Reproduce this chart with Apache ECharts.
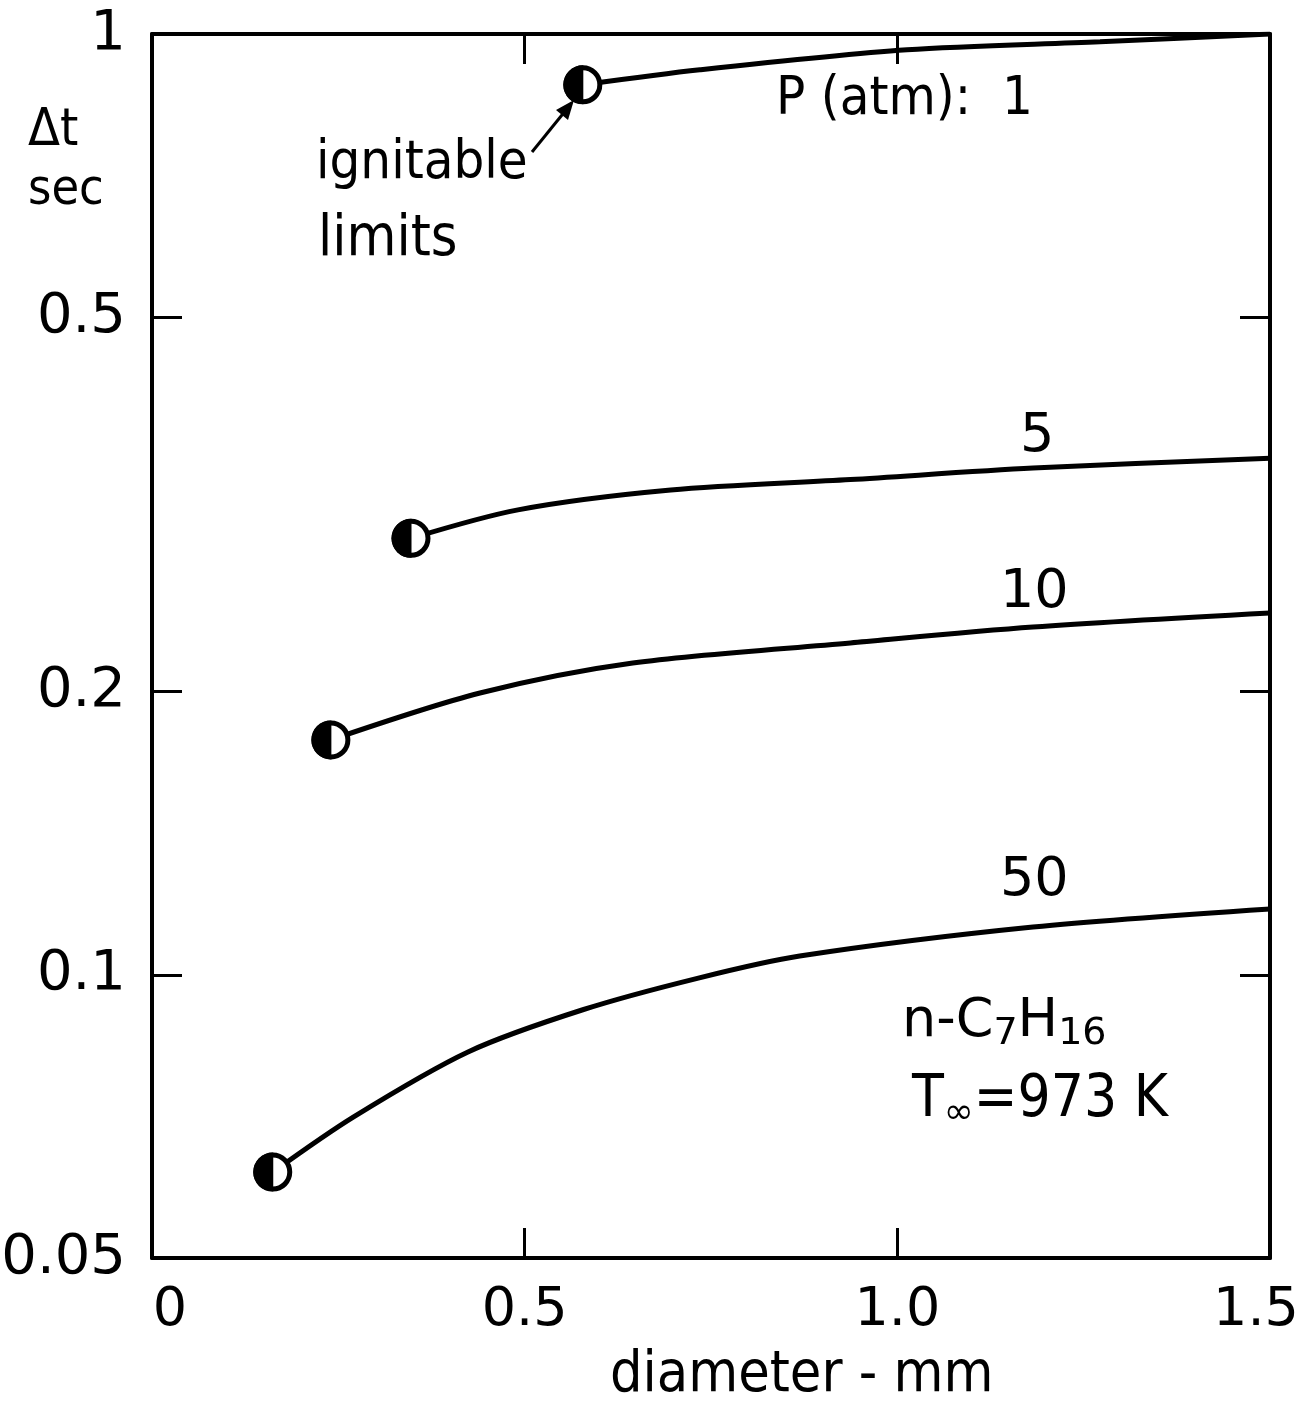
<!DOCTYPE html>
<html><head><meta charset="utf-8">
<script src="https://cdn.jsdelivr.net/npm/echarts@6/dist/echarts.min.js"></script>
<style>html,body{margin:0;padding:0;background:#fff;overflow:hidden}#c{width:1300px;height:1414px}</style>
</head><body><div id="c"></div>
<script>
// Data (diameter in mm, Δt in sec)
const p1X  = [0.578, 0.735, 1.013, 1.272, 1.5];
const p1Y  = [0.883, 0.916, 0.962, 0.981, 1.0];
const p5X  = [0.3475, 0.491, 0.696, 0.937, 1.182, 1.5];
const p5Y  = [0.291, 0.312, 0.3275, 0.336, 0.3456, 0.354];
const p10X = [0.240, 0.440, 0.645, 0.937, 1.182, 1.5];
const p10Y = [0.1777, 0.1993, 0.2145, 0.2253, 0.2342, 0.2424];
const p50X = [0.162, 0.270, 0.424, 0.578, 0.733, 0.869, 1.182, 1.5];
const p50Y = [0.0617, 0.0706, 0.0828, 0.0918, 0.0992, 0.1047, 0.1124, 0.1175];
const yTicks = [0.05, 0.1, 0.2, 0.5, 1];
const xTicks = [0, 0.5, 1.0, 1.5];
const curveNames = ['1', '5', '10', '50'];

const FONT = "'DejaVu Sans', sans-serif";
const CFONT = "'DejaVu Sans Condensed', 'DejaVu Sans', sans-serif";
const pairs = (xs, ys) => xs.map((x, i) => [x, ys[i]]);
const curves = [pairs(p1X, p1Y), pairs(p5X, p5Y), pairs(p10X, p10Y), pairs(p50X, p50Y)];
const starts = curves.map(c => c[0]);

const chart = echarts.init(document.getElementById('c'), null, {renderer: 'canvas', width: 1300, height: 1414});
const axisLineStyle = {show: true, onZero: false, lineStyle: {color: '#000', width: 4}};
const tickStyle = {show: true, inside: true, length: 30, lineStyle: {color: '#000', width: 3}};

const series = curves.map((c, i) => ({
  name: 'P=' + curveNames[i], type: 'line', data: c, smooth: 0.3,
  symbol: 'none', lineStyle: {color: '#000', width: 5}, z: 2
}));
series.push({
  type: 'scatter', data: starts, symbol: 'circle', symbolSize: 34,
  itemStyle: {color: '#fff', borderColor: '#000', borderWidth: 5, opacity: 1}, z: 5
});
series.push({
  type: 'scatter', data: starts, symbol: 'path://M50,0 A50,50 0 0,0 50,100 Z',
  symbolSize: [20, 39], symbolOffset: [-9.5, 0],
  itemStyle: {color: '#000', opacity: 1}, z: 6
});

const txt = (left, top, text, size, fam) => ({type: 'text', left, top,
  style: {text, font: size + 'px ' + (fam || CFONT), fill: '#000'}});

chart.setOption({
  animation: false,
  backgroundColor: '#fff',
  grid: {left: 152, right: 30, top: 34, bottom: 156, containLabel: false, outerBoundsMode: 'none'},
  xAxis: [{
    type: 'value', min: 0, max: 1.5, interval: 0.5, position: 'bottom',
    axisLine: axisLineStyle, axisTick: tickStyle, splitLine: {show: false},
    axisLabel: {customValues: xTicks,
      formatter: v => v === 0 ? '{l|0}' : (v === 1.5 ? '{r|1.5}' : v.toFixed(1)),
      rich: {l: {padding: [0, 0, 0, 36], fontSize: 54, fontFamily: FONT, color: '#000'},
             r: {padding: [0, 28, 0, 0], fontSize: 54, fontFamily: FONT, color: '#000'}},
      color: '#000', fontFamily: FONT, fontSize: 54, margin: 26}
  }, {
    type: 'value', min: 0, max: 1.5, interval: 0.5, position: 'top',
    axisLine: axisLineStyle, axisTick: tickStyle, splitLine: {show: false},
    axisLabel: {show: false}
  }],
  yAxis: [{
    type: 'log', logBase: 10, min: 0.05, max: 1, position: 'left',
    axisLine: axisLineStyle,
    axisTick: Object.assign({customValues: yTicks}, tickStyle), splitLine: {show: false},
    axisLabel: {customValues: yTicks, formatter: v => String(v),
      color: '#000', fontFamily: FONT, fontSize: 56, margin: 26}
  }, {
    type: 'log', logBase: 10, min: 0.05, max: 1, position: 'right',
    axisLine: axisLineStyle,
    axisTick: Object.assign({customValues: yTicks}, tickStyle), splitLine: {show: false},
    axisLabel: {show: false}
  }],
  series: series,
  graphic: [
    txt(28, 105, 'Δt', 52),
    txt(28, 166, 'sec', 50),
    txt(610, 1348, 'diameter - mm', 57),
    txt(776, 73, 'P (atm):  1', 54),
    txt(1020, 410, '5', 54, FONT),
    txt(1000, 566, '10', 54, FONT),
    txt(1000, 854, '50', 54, FONT),
    txt(316, 137, 'ignitable', 54),
    txt(318, 212, 'limits', 57),
    {type: 'line', shape: {x1: 532, y1: 152, x2: 566, y2: 110}, style: {stroke: '#000', lineWidth: 3}},
    {type: 'polygon', shape: {points: [[574, 100], [556, 110], [568, 120]]}, style: {fill: '#000'}},
    {type: 'text', left: 902, top: 995, style: {
      rich: {n: {font: "54px " + FONT, fill: '#000'}, s: {font: "38px " + FONT, fill: '#000', padding: [24, 0, 0, 0]}},
      text: '{n|n-C}{s|7}{n|H}{s|16}'}},
    {type: 'text', left: 912, top: 1072, style: {
      rich: {n: {font: "58px " + CFONT, fill: '#000'}, s: {font: "36px " + FONT, fill: '#000', padding: [26, 0, 0, 0]}},
      text: '{n|T}{s|∞}{n|=973 K}'}}
  ]
});
</script></body></html>
